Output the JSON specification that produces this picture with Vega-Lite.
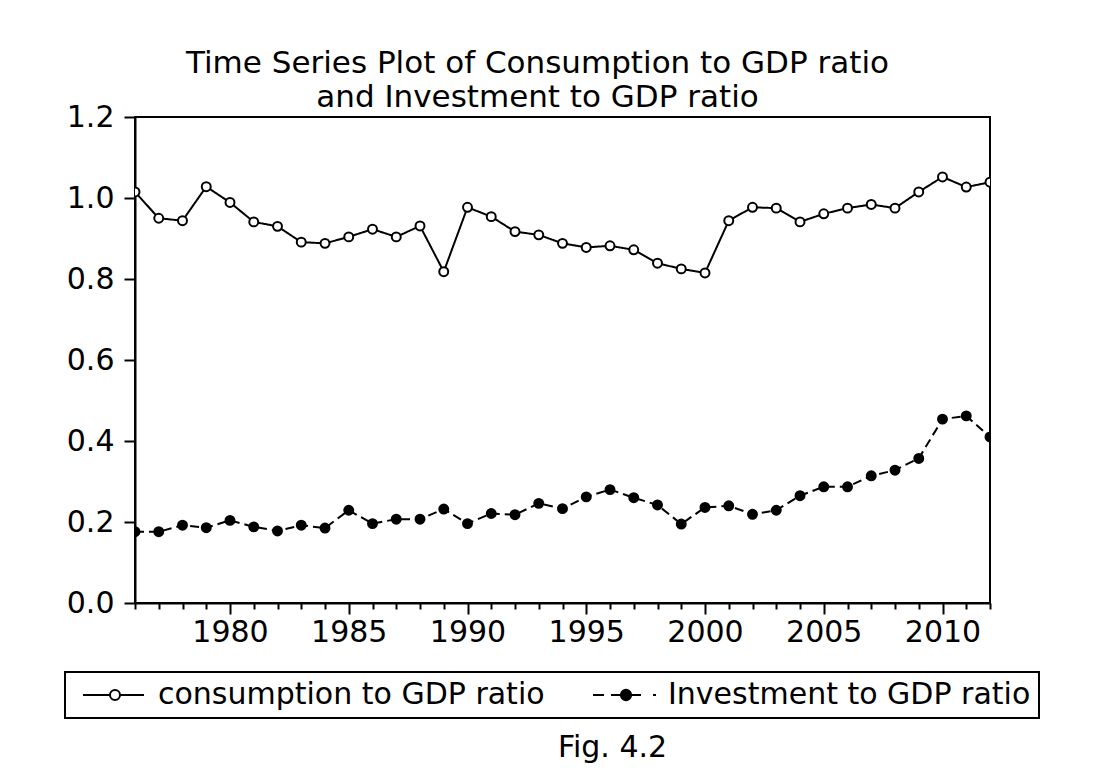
{
  "$schema": "https://vega.github.io/schema/vega-lite/v6.json",
  "width": 855,
  "height": 486,
  "autosize": {"type": "none"},
  "padding": {"left": 135, "top": 117, "right": 111, "bottom": 181},
  "background": "white",
  "title": {
    "text": ["Time Series Plot of Consumption to GDP ratio", "and Investment to GDP ratio"],
    "font": "DejaVu Sans",
    "fontSize": 31,
    "fontWeight": "normal",
    "color": "black",
    "anchor": "middle",
    "dx": -25,
    "lineHeight": 34,
    "offset": -12
  },
  "datasets": {
    "ratios": [
      {"year": 1976, "series": "consumption to GDP ratio", "ratio": 1.015},
      {"year": 1977, "series": "consumption to GDP ratio", "ratio": 0.950},
      {"year": 1978, "series": "consumption to GDP ratio", "ratio": 0.944},
      {"year": 1979, "series": "consumption to GDP ratio", "ratio": 1.028},
      {"year": 1980, "series": "consumption to GDP ratio", "ratio": 0.989},
      {"year": 1981, "series": "consumption to GDP ratio", "ratio": 0.941},
      {"year": 1982, "series": "consumption to GDP ratio", "ratio": 0.930},
      {"year": 1983, "series": "consumption to GDP ratio", "ratio": 0.891},
      {"year": 1984, "series": "consumption to GDP ratio", "ratio": 0.888},
      {"year": 1985, "series": "consumption to GDP ratio", "ratio": 0.904},
      {"year": 1986, "series": "consumption to GDP ratio", "ratio": 0.923},
      {"year": 1987, "series": "consumption to GDP ratio", "ratio": 0.904},
      {"year": 1988, "series": "consumption to GDP ratio", "ratio": 0.931},
      {"year": 1989, "series": "consumption to GDP ratio", "ratio": 0.818},
      {"year": 1990, "series": "consumption to GDP ratio", "ratio": 0.977},
      {"year": 1991, "series": "consumption to GDP ratio", "ratio": 0.954},
      {"year": 1992, "series": "consumption to GDP ratio", "ratio": 0.917},
      {"year": 1993, "series": "consumption to GDP ratio", "ratio": 0.909},
      {"year": 1994, "series": "consumption to GDP ratio", "ratio": 0.888},
      {"year": 1995, "series": "consumption to GDP ratio", "ratio": 0.878},
      {"year": 1996, "series": "consumption to GDP ratio", "ratio": 0.882},
      {"year": 1997, "series": "consumption to GDP ratio", "ratio": 0.872},
      {"year": 1998, "series": "consumption to GDP ratio", "ratio": 0.839},
      {"year": 1999, "series": "consumption to GDP ratio", "ratio": 0.825},
      {"year": 2000, "series": "consumption to GDP ratio", "ratio": 0.815},
      {"year": 2001, "series": "consumption to GDP ratio", "ratio": 0.944},
      {"year": 2002, "series": "consumption to GDP ratio", "ratio": 0.977},
      {"year": 2003, "series": "consumption to GDP ratio", "ratio": 0.975},
      {"year": 2004, "series": "consumption to GDP ratio", "ratio": 0.941},
      {"year": 2005, "series": "consumption to GDP ratio", "ratio": 0.961},
      {"year": 2006, "series": "consumption to GDP ratio", "ratio": 0.975},
      {"year": 2007, "series": "consumption to GDP ratio", "ratio": 0.984},
      {"year": 2008, "series": "consumption to GDP ratio", "ratio": 0.975},
      {"year": 2009, "series": "consumption to GDP ratio", "ratio": 1.015},
      {"year": 2010, "series": "consumption to GDP ratio", "ratio": 1.052},
      {"year": 2011, "series": "consumption to GDP ratio", "ratio": 1.027},
      {"year": 2012, "series": "consumption to GDP ratio", "ratio": 1.039},
      {"year": 1976, "series": "Investment to GDP ratio", "ratio": 0.176},
      {"year": 1977, "series": "Investment to GDP ratio", "ratio": 0.176},
      {"year": 1978, "series": "Investment to GDP ratio", "ratio": 0.192},
      {"year": 1979, "series": "Investment to GDP ratio", "ratio": 0.186},
      {"year": 1980, "series": "Investment to GDP ratio", "ratio": 0.204},
      {"year": 1981, "series": "Investment to GDP ratio", "ratio": 0.188},
      {"year": 1982, "series": "Investment to GDP ratio", "ratio": 0.178},
      {"year": 1983, "series": "Investment to GDP ratio", "ratio": 0.192},
      {"year": 1984, "series": "Investment to GDP ratio", "ratio": 0.185},
      {"year": 1985, "series": "Investment to GDP ratio", "ratio": 0.229},
      {"year": 1986, "series": "Investment to GDP ratio", "ratio": 0.196},
      {"year": 1987, "series": "Investment to GDP ratio", "ratio": 0.207},
      {"year": 1988, "series": "Investment to GDP ratio", "ratio": 0.207},
      {"year": 1989, "series": "Investment to GDP ratio", "ratio": 0.232},
      {"year": 1990, "series": "Investment to GDP ratio", "ratio": 0.196},
      {"year": 1991, "series": "Investment to GDP ratio", "ratio": 0.221},
      {"year": 1992, "series": "Investment to GDP ratio", "ratio": 0.218},
      {"year": 1993, "series": "Investment to GDP ratio", "ratio": 0.246},
      {"year": 1994, "series": "Investment to GDP ratio", "ratio": 0.233},
      {"year": 1995, "series": "Investment to GDP ratio", "ratio": 0.262},
      {"year": 1996, "series": "Investment to GDP ratio", "ratio": 0.280},
      {"year": 1997, "series": "Investment to GDP ratio", "ratio": 0.260},
      {"year": 1998, "series": "Investment to GDP ratio", "ratio": 0.242},
      {"year": 1999, "series": "Investment to GDP ratio", "ratio": 0.195},
      {"year": 2000, "series": "Investment to GDP ratio", "ratio": 0.236},
      {"year": 2001, "series": "Investment to GDP ratio", "ratio": 0.240},
      {"year": 2002, "series": "Investment to GDP ratio", "ratio": 0.219},
      {"year": 2003, "series": "Investment to GDP ratio", "ratio": 0.229},
      {"year": 2004, "series": "Investment to GDP ratio", "ratio": 0.265},
      {"year": 2005, "series": "Investment to GDP ratio", "ratio": 0.287},
      {"year": 2006, "series": "Investment to GDP ratio", "ratio": 0.287},
      {"year": 2007, "series": "Investment to GDP ratio", "ratio": 0.314},
      {"year": 2008, "series": "Investment to GDP ratio", "ratio": 0.328},
      {"year": 2009, "series": "Investment to GDP ratio", "ratio": 0.357},
      {"year": 2010, "series": "Investment to GDP ratio", "ratio": 0.454},
      {"year": 2011, "series": "Investment to GDP ratio", "ratio": 0.462},
      {"year": 2012, "series": "Investment to GDP ratio", "ratio": 0.410}
    ]
  },
  "data": {"name": "ratios"},
  "encoding": {
    "x": {
      "field": "year",
      "type": "quantitative",
      "scale": {"domain": [1976, 2012], "nice": false, "zero": false},
      "axis": {
        "values": [1976,1977,1978,1979,1980,1981,1982,1983,1984,1985,1986,1987,1988,1989,1990,1991,1992,1993,1994,1995,1996,1997,1998,1999,2000,2001,2002,2003,2004,2005,2006,2007,2008,2009,2010,2011,2012],
        "format": "d",
        "labelExpr": "datum.value % 5 === 0 ? datum.label : ''",
        "labelOverlap": false,
        "labelFlush": false,
        "tickSize": {"condition": {"test": "datum.value % 5 === 0", "value": 11}, "value": 6},
        "labelPadding": 3,
        "grid": false,
        "title": "Fig. 4.2",
        "titleX": 477,
        "titleY": 153,
        "titleAlign": "center",
        "titleBaseline": "alphabetic"
      }
    },
    "y": {
      "field": "ratio",
      "type": "quantitative",
      "scale": {"domain": [0, 1.2], "nice": false, "zero": true},
      "axis": {
        "values": [0, 0.2, 0.4, 0.6, 0.8, 1.0, 1.2],
        "format": ".1f",
        "tickSize": 11,
        "labelPadding": 10,
        "grid": false,
        "title": null
      }
    }
  },
  "layer": [
    {
      "mark": {"type": "line", "color": "black", "strokeWidth": 2, "clip": true},
      "encoding": {
        "detail": {"field": "series", "type": "nominal"},
        "strokeDash": {
          "condition": {"test": "datum.series === 'Investment to GDP ratio'", "value": [9, 5]},
          "value": [1, 0]
        }
      }
    },
    {
      "mark": {"type": "point", "shape": "circle", "filled": true, "stroke": "black", "strokeWidth": 2, "size": 80, "opacity": 1, "clip": true},
      "encoding": {
        "fill": {
          "condition": {"test": "datum.series === 'Investment to GDP ratio'", "value": "black"},
          "value": "white"
        }
      }
    },
    {
      "transform": [{"filter": "datum.ratio < 0"}],
      "mark": {"type": "point", "filled": true, "stroke": "black", "strokeWidth": 2, "opacity": 1},
      "encoding": {
        "fill": {
          "field": "series",
          "type": "nominal",
          "scale": {"domain": ["consumption to GDP ratio", "Investment to GDP ratio"], "range": ["white", "black"]},
          "legend": {
            "title": null,
            "symbolSize": 576,
            "encode": {
              "symbols": {
                "stroke": {"value": "black"},
                "strokeWidth": {"value": 2},
                "opacity": {"value": 1}
              }
            }
          }
        },
        "shape": {
          "field": "series",
          "type": "nominal",
          "scale": {
            "domain": ["consumption to GDP ratio", "Investment to GDP ratio"],
            "range": [
              "M-0.417,0L1.833,0M2.667,0L4.667,0M1.833,0A0.4167,0.4167,0,1,1,2.667,0A0.4167,0.4167,0,1,1,1.833,0Z",
              "M-0.417,0L0.5,0M1.083,0L1.917,0M2.75,0L3.583,0M4.583,0L4.833,0M1.917,0A0.4167,0.4167,0,1,1,2.75,0A0.4167,0.4167,0,1,1,1.917,0Z"
            ]
          },
          "legend": {
            "title": null,
            "symbolSize": 576,
            "encode": {
              "symbols": {
                "stroke": {"value": "black"},
                "strokeWidth": {"value": 2},
                "opacity": {"value": 1}
              }
            }
          }
        }
      }
    }
  ],
  "config": {
    "view": {"stroke": "black", "strokeWidth": 2},
    "axis": {
      "domainColor": "black",
      "domainWidth": 2,
      "tickColor": "black",
      "tickWidth": 2,
      "labelFont": "DejaVu Sans",
      "labelFontSize": 30,
      "labelColor": "black",
      "titleFont": "DejaVu Sans",
      "titleFontSize": 30,
      "titleFontWeight": "normal",
      "titleColor": "black"
    },
    "legend": {
      "orient": "none",
      "legendX": -70,
      "legendY": 555,
      "direction": "horizontal",
      "strokeColor": "black",
      "strokeWidth": 2,
      "fillColor": "white",
      "padding": 8,
      "symbolSize": 576,
      "symbolStrokeWidth": 2,
      "symbolOffset": 0,
      "labelOffset": 55,
      "columnPadding": 38,
      "labelFont": "DejaVu Sans",
      "labelFontSize": 30,
      "labelColor": "black",
      "labelLimit": 0
    }
  }
}
